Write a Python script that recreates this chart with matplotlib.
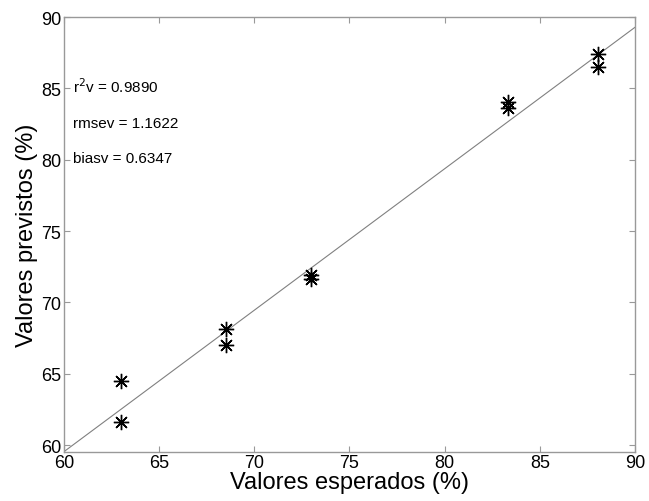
import matplotlib
matplotlib.use("Agg")
import matplotlib.pyplot as plt

plt.rcParams["font.family"] = ["Liberation Sans", "DejaVu Sans"]

# measured vs predicted values
esperados = [63.0, 63.0, 68.5, 68.5, 73.0, 73.0, 83.35, 83.35, 88.05, 88.05]
previstos = [64.47, 61.64, 68.11, 67.04, 71.92, 71.64, 84.02, 83.60, 87.41, 86.47]

# fitted line endpoints
fit_x = [60, 90]
fit_y = [59.54, 89.28]

stats_text = [r"r$^2$v = 0.9890", "rmsev = 1.1622", "biasv = 0.6347"]
stats_y = [85.2, 82.6, 80.1]

xticks = [60, 65, 70, 75, 80, 85, 90]
yticks = [60, 65, 70, 75, 80, 85, 90]

fig = plt.figure(figsize=(6.49, 5.02), dpi=100)
ax = fig.add_axes([0.0986, 0.0986, 0.8798, 0.8655])

ax.plot(fit_x, fit_y, color="#808080", lw=0.8, zorder=2)
# matlab-style asterisk: 8-armed
ax.plot(esperados, previstos, ls="none", marker=(8, 2, 0), color="black",
        ms=11, mew=1.0, zorder=3)

for txt, y in zip(stats_text, stats_y):
    ax.text(60.45, y, txt, fontsize=11, va="center", ha="left")

ax.set_xlim(60, 90)
ax.set_ylim(59.55, 90)
ax.set_xticks(xticks)
ax.set_yticks(yticks)
ax.tick_params(direction="in", top=True, right=True, labelsize=13,
               length=4, color="#999999", pad=2)
for sp in ax.spines.values():
    sp.set_color("#999999")
    sp.set_linewidth(1.0)

ax.set_xlabel("Valores esperados (%)", fontsize=17, labelpad=0)
ax.set_ylabel("Valores previstos (%)", fontsize=17, labelpad=2)

fig.savefig("out.png", dpi=100)
